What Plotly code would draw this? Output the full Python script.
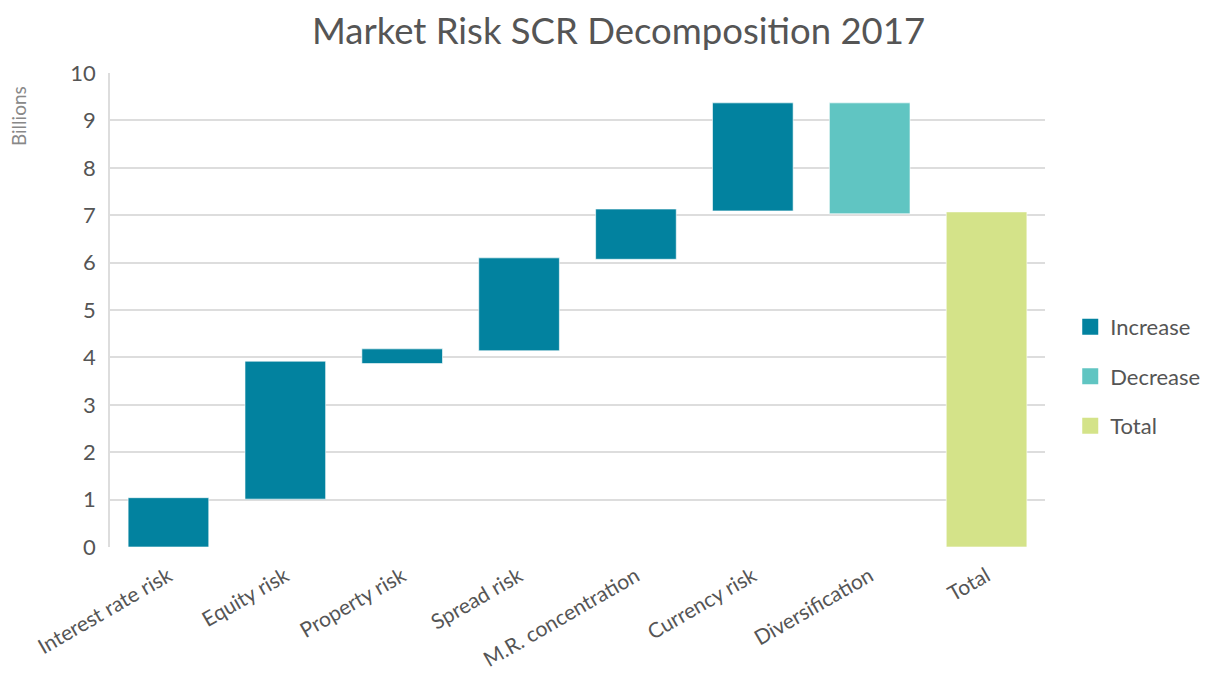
import plotly.graph_objects as go

categories = ["Interest rate risk", "Equity risk", "Property risk", "Spread risk",
              "M.R. concentration", "Currency risk", "Diversification", "Total"]
starts = [0.0, 1.01, 3.87, 4.14, 6.07, 7.09, 7.03, 0.0]
ends = [1.04, 3.92, 4.18, 6.10, 7.13, 9.37, 9.37, 7.07]
kinds = ["Increase", "Increase", "Increase", "Increase", "Increase", "Increase", "Decrease", "Total"]

colors = {"Increase": "#02829F", "Decrease": "#60C5C2", "Total": "#D4E389"}

fig = go.Figure()
for kind in ["Increase", "Decrease", "Total"]:
    xs, bs, hs = [], [], []
    for c, s, e, k in zip(categories, starts, ends, kinds):
        if k == kind:
            xs.append(c)
            bs.append(s)
            hs.append(e - s)
    fig.add_trace(go.Bar(
        x=xs, y=hs, base=bs, name=kind, showlegend=False,
        marker=dict(color=colors[kind], line=dict(color="rgba(255,255,255,0.6)", width=1)),
        width=0.69,
    ))
    # legend entry with larger square swatch
    fig.add_trace(go.Scatter(
        x=[None], y=[None], mode="markers", name=kind, legendgroup=kind,
        marker=dict(symbol="square", size=20, color=colors[kind]),
    ))

fig.update_layout(
    width=1221, height=673,
    barmode="overlay",
    plot_bgcolor="white", paper_bgcolor="white",
    font=dict(family="Lato", color="#555555"),
    title=dict(text="Market Risk SCR Decomposition 2017", x=0.5, xanchor="center",
               y=0.966, yanchor="middle", font=dict(size=36.5, color="#555555")),
    margin=dict(l=102, r=184, t=65, b=134),
    legend=dict(x=1.027, y=0.36, xanchor="left", yanchor="middle",
                font=dict(size=22, color="#555555"), itemsizing="trace",
                tracegroupgap=18),
    showlegend=True,
    annotations=[dict(text="Billions", xref="paper", yref="paper", x=-0.098, y=0.91,
                      xanchor="center", yanchor="middle", textangle=-90, showarrow=False,
                      font=dict(size=19, color="#888888"))],
)
fig.update_xaxes(categoryorder="array", categoryarray=categories,
                 range=[-0.5, 7.5], tickangle=-30, tickfont=dict(size=21, color="#555555"),
                 showgrid=False, showline=False, ticks="", ticklabelstandoff=12,
                 automargin=False)
fig.update_yaxes(range=[0, 10], dtick=1, tickfont=dict(size=22, color="#555555"),
                 showgrid=True, gridcolor="#dddddd", gridwidth=1.5,
                 showline=True, linecolor="#dddddd", linewidth=1.5,
                 zeroline=False, ticks="", ticklabelstandoff=8, automargin=False)

fig.write_html("out.html")
